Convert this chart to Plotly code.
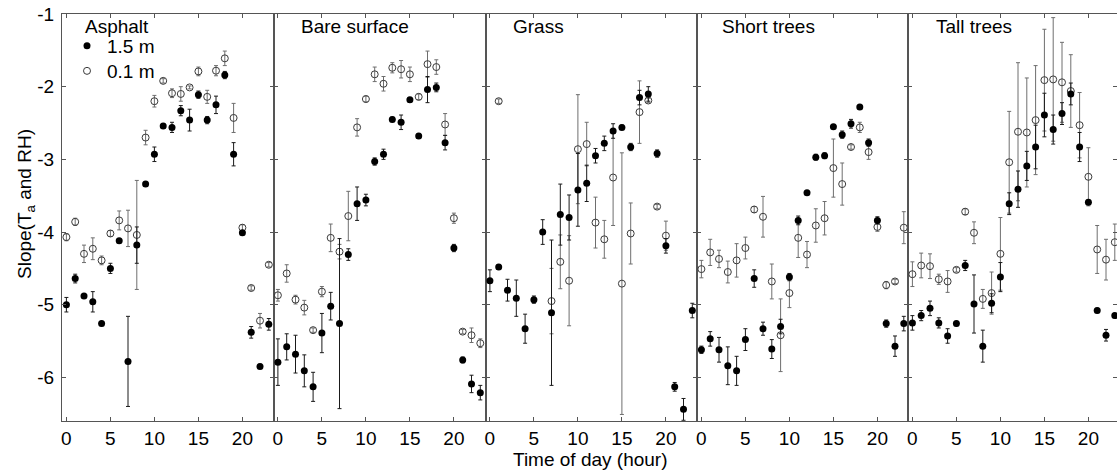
import plotly.graph_objects as go

hours = list(range(24))
panels = ["Asphalt", "Bare surface", "Grass", "Short trees", "Tall trees"]
title_x = [1.9, 2.45, 2.38, 2.07, 2.5]
x_ticks = [0, 5, 10, 15, 20]
y_ticks = [-6, -5, -4, -3, -2, -1]
y_tick_text = ["-6", "-5", "-4", "-3", "-2", "-1"]

# 1.5 m (filled) and 0.1 m (open) slopes with error half-widths
asphalt_15 = [-5.00, -4.64, -4.88, -4.96, -5.26, -4.50, -4.12, -5.78, -4.18, -3.34, -2.93, -2.54,
              -2.56, -2.33, -2.46, -2.11, -2.46, -2.25, -1.84, -2.93, -4.01, -5.38, -5.85, -5.27]
asphalt_15_err = [0.10, 0.06, 0.03, 0.14, 0.03, 0.07, 0.03, 0.62, 0.25, 0.03, 0.10, 0.03,
                  0.07, 0.07, 0.15, 0.05, 0.05, 0.12, 0.05, 0.16, 0.03, 0.08, 0.03, 0.08]
asphalt_01 = [-4.07, -3.86, -4.30, -4.23, -4.39, -4.02, -3.84, -3.95, -4.04, -2.70, -2.20, -1.92,
              -2.09, -2.10, -2.01, -1.79, -2.14, -1.78, -1.61, -2.43, -3.94, -4.77, -5.22, -4.45]
asphalt_01_err = [0.05, 0.05, 0.12, 0.15, 0.06, 0.04, 0.13, 0.25, 0.75, 0.10, 0.08, 0.03,
                  0.06, 0.10, 0.02, 0.06, 0.09, 0.07, 0.10, 0.20, 0.04, 0.03, 0.10, 0.03]

bare_15 = [-5.79, -5.58, -5.68, -5.91, -6.13, -5.39, -5.02, -5.26, -4.31, -3.61, -3.56, -3.03,
           -2.93, -2.45, -2.49, -2.18, -2.68, -2.04, -2.01, -2.77, -4.22, -5.76, -6.09, -6.21]
bare_15_err = [0.32, 0.18, 0.26, 0.22, 0.20, 0.27, 0.19, 1.17, 0.08, 0.23, 0.08, 0.05,
               0.07, 0.03, 0.10, 0.03, 0.03, 0.18, 0.06, 0.10, 0.05, 0.04, 0.12, 0.10]
bare_01 = [-4.87, -4.57, -4.93, -5.04, -5.35, -4.82, -4.08, -4.27, -3.78, -2.56, -2.17, -1.83,
           -1.96, -1.74, -1.76, -1.83, -2.14, -1.69, -1.73, -2.52, -3.81, -5.37, -5.42, -5.53]
bare_01_err = [0.08, 0.12, 0.06, 0.10, 0.03, 0.07, 0.19, 0.10, 0.34, 0.12, 0.04, 0.10,
               0.10, 0.07, 0.12, 0.10, 0.04, 0.18, 0.10, 0.15, 0.07, 0.03, 0.10, 0.06]

grass_15 = [-4.67, -4.48, -4.80, -4.91, -5.33, -4.93, -4.00, -5.11, -3.76, -3.80, -3.42, -3.33,
            -2.95, -2.78, -2.61, -2.56, -2.83, -2.15, -2.10, -2.92, -4.19, -6.13, -6.44, -5.08]
grass_15_err = [0.15, 0.03, 0.15, 0.25, 0.20, 0.05, 0.17, 1.00, 0.42, 0.31, 0.50, 0.25,
                0.10, 0.10, 0.10, 0.03, 0.05, 0.10, 0.10, 0.05, 0.10, 0.06, 0.15, 0.10]
grass_01 = [None, -2.20, None, None, None, None, None, -4.95, -4.41, -4.67, -2.86, -2.79,
            -3.87, -4.10, -3.25, -4.71, -4.02, -2.35, -2.19, -3.65, -4.05, None, None, None]
grass_01_err = [None, 0.03, None, None, None, None, None, 0.45, 0.37, 0.62, 0.75, 0.30,
                0.35, 0.26, 0.66, 1.80, 0.42, 0.43, 0.03, 0.03, 0.20, None, None, None]

short_15 = [-5.62, -5.47, -5.62, -5.84, -5.91, -5.48, -4.64, -5.33, -5.61, -5.30, -4.62, -3.84,
            -3.46, -2.97, -2.95, -2.55, -2.66, -2.51, -2.28, -2.77, -3.84, -5.26, -5.57, -5.26]
short_15_err = [0.05, 0.10, 0.17, 0.26, 0.20, 0.15, 0.12, 0.09, 0.13, 0.10, 0.05, 0.06,
                0.02, 0.04, 0.04, 0.02, 0.05, 0.06, 0.02, 0.05, 0.05, 0.05, 0.14, 0.10]
short_01 = [-4.51, -4.28, -4.37, -4.55, -4.39, -4.22, -3.69, -3.79, -4.68, -5.42, -4.84, -4.08,
            -4.31, -3.91, -3.81, -3.12, -3.34, -2.83, -2.56, -2.90, -3.93, -4.73, -4.68, -3.94]
short_01_err = [0.12, 0.18, 0.12, 0.15, 0.23, 0.15, 0.04, 0.28, 0.24, 0.50, 0.20, 0.27,
                0.18, 0.23, 0.23, 0.40, 0.29, 0.03, 0.07, 0.10, 0.06, 0.05, 0.03, 0.22]

tall_15 = [-5.25, -5.15, -5.05, -5.25, -5.43, -5.26, -4.46, -4.99, -5.57, -4.98, -4.62, -3.61,
           -3.41, -3.09, -2.83, -2.39, -2.59, -2.37, -2.10, -2.83, -3.59, -5.08, -5.42, -5.15]
tall_15_err = [0.10, 0.07, 0.10, 0.07, 0.10, 0.03, 0.07, 0.40, 0.22, 0.13, 0.20, 0.15,
               0.25, 0.20, 0.30, 0.30, 0.20, 0.15, 0.15, 0.20, 0.03, 0.03, 0.08, 0.03]
tall_01 = [-4.58, -4.46, -4.47, -4.65, -4.68, -4.52, -3.72, -4.01, -4.92, -4.84, -4.30, -3.04,
           -2.62, -2.63, -2.46, -1.91, -1.90, -1.94, -2.06, -2.53, -3.24, -4.24, -4.38, -4.14]
tall_01_err = [0.17, 0.17, 0.17, 0.07, 0.15, 0.03, 0.04, 0.15, 0.13, 0.29, 0.50, 0.70,
               0.95, 0.75, 0.75, 0.70, 0.85, 0.55, 0.50, 0.45, 0.40, 0.33, 0.28, 0.25]

series_15 = [asphalt_15, bare_15, grass_15, short_15, tall_15]
series_15_err = [asphalt_15_err, bare_15_err, grass_15_err, short_15_err, tall_15_err]
series_01 = [asphalt_01, bare_01, grass_01, short_01, tall_01]
series_01_err = [asphalt_01_err, bare_01_err, grass_01_err, short_01_err, tall_01_err]

FONT = "Arial, Liberation Sans, sans-serif"
W, H = 1117, 472
ML, MT, MB = 62, 14, 51
PH = H - MT - MB
px_per_hour = 211.2 / 24.0
bounds = [62, 273.5, 485.5, 697, 908, 1117]

fig = go.Figure()
for i in range(5):
    xa = "x" if i == 0 else f"x{i+1}"
    ya = "y" if i == 0 else f"y{i+1}"
    fig.add_trace(go.Scatter(
        x=hours, y=series_01[i], xaxis=xa, yaxis=ya, mode="markers",
        name="0.1 m", showlegend=(i == 0), legend="legend2",
        marker=dict(symbol="circle-open", size=7, color="#3a3a3a", line=dict(width=1)),
        error_y=dict(type="data", array=series_01_err[i], visible=True,
                     color="#6e6e6e", thickness=1, width=2),
    ))
    fig.add_trace(go.Scatter(
        x=hours, y=series_15[i], xaxis=xa, yaxis=ya, mode="markers",
        name="1.5 m", showlegend=(i == 0), legend="legend",
        marker=dict(symbol="circle", size=7, color="black"),
        error_y=dict(type="data", array=series_15_err[i], visible=True,
                     color="#1a1a1a", thickness=1, width=2),
    ))

plot_w = W - ML
leg_common = dict(xanchor="left", yanchor="top", bgcolor="rgba(0,0,0,0)",
                  font=dict(size=19, family=FONT), itemwidth=30)
layout = dict(
    width=W, height=H,
    margin=dict(l=ML, r=0, t=MT, b=MB, pad=0),
    paper_bgcolor="white", plot_bgcolor="white",
    font=dict(family=FONT, size=19, color="black"),
    showlegend=True,
    legend=dict(x=(67 - ML) / plot_w, y=1 - (27 - MT) / PH, **leg_common),
    legend2=dict(x=(67 - ML) / plot_w, y=1 - (52 - MT) / PH, **leg_common),
)
for i in range(5):
    key = "xaxis" if i == 0 else f"xaxis{i+1}"
    ykey = "yaxis" if i == 0 else f"yaxis{i+1}"
    d0 = (bounds[i] - ML) / plot_w
    d1 = (bounds[i + 1] - ML) / plot_w
    xmax = -0.5 + (bounds[i + 1] - bounds[i]) / px_per_hour
    layout[key] = dict(
        domain=[d0, d1], anchor="y" if i == 0 else f"y{i+1}",
        range=[-0.5, xmax], tickvals=x_ticks, ticks="inside", ticklen=4,
        tickcolor="#555", showline=True, linecolor="#555", linewidth=1,
        mirror="ticks", showgrid=False, zeroline=False,
        tickfont=dict(size=19, family=FONT),
    )
    layout[ykey] = dict(
        domain=[0, 1], anchor="x" if i == 0 else f"x{i+1}",
        range=[-6.6, -1], tickvals=y_ticks, ticktext=y_tick_text,
        ticks="inside", ticklen=4,
        tickcolor="#555", showline=True, linecolor="#555", linewidth=1,
        mirror="ticks", showgrid=False, zeroline=False,
        showticklabels=(i == 0), tickfont=dict(size=19, family=FONT),
        ticklabelstandoff=3,
    )
fig.update_layout(**layout)

annotations = []
for i, name in enumerate(panels):
    xa = "x" if i == 0 else f"x{i+1}"
    annotations.append(dict(
        text=name, x=title_x[i], xref=xa, y=1 - (26 - MT) / PH, yref="paper",
        xanchor="left", yanchor="middle", showarrow=False,
        font=dict(size=19, family=FONT, color="black"),
    ))
annotations.append(dict(
    text="Time of day (hour)", x=(590 - ML) / plot_w, xref="paper",
    y=-(459 - (H - MB)) / PH, yref="paper", xanchor="center", yanchor="middle",
    showarrow=False, font=dict(size=19, family=FONT, color="black"),
))
annotations.append(dict(
    text="Slope(T<sub>a</sub> and RH)", x=(26 - ML) / plot_w, xref="paper",
    y=1 - (204 - MT) / PH, yref="paper", xanchor="center", yanchor="middle",
    textangle=-90, showarrow=False, font=dict(size=19, family=FONT, color="black"),
))
fig.update_layout(annotations=annotations)

fig.write_html("out.html", include_plotlyjs=True, config={"displayModeBar": False})
